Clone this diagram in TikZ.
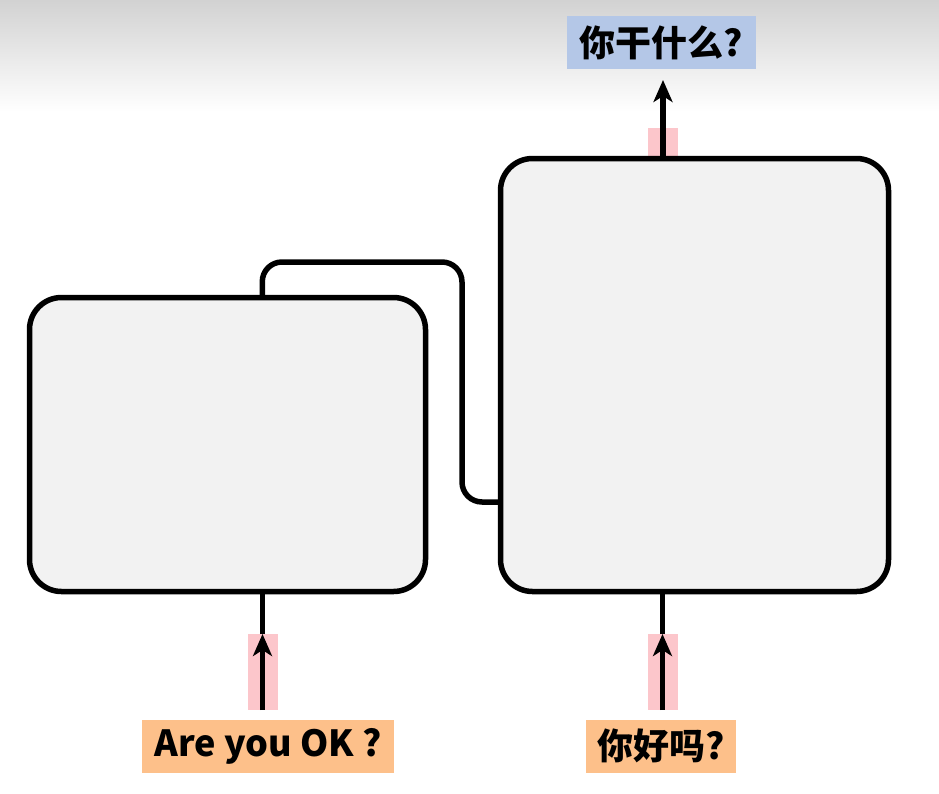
\documentclass[tikz,border=0pt]{standalone}
\usepackage{fontspec}
\setmainfont{Noto Sans CJK SC}
\usetikzlibrary{arrows.meta}
\definecolor{boxfill}{HTML}{F2F2F2}
\definecolor{pinkbar}{HTML}{FCC6CB}
\definecolor{orangelab}{HTML}{FDC08A}
\definecolor{bluelab}{HTML}{B4C7E7}
\definecolor{topgray}{HTML}{D2D2D2}
\tikzset{
  cell/.style={draw=black, line width=5.5pt, fill=boxfill, rounded corners=32pt, inner sep=0pt, outer sep=0pt},
  bar/.style={fill=pinkbar, inner sep=0pt, outer sep=0pt, minimum width=30pt},
  lab/.style={inner sep=0pt, outer sep=0pt, minimum height=53pt, font=\fontsize{36}{40}\selectfont\bfseries},
  wire/.style={line width=5.5pt, draw=black},
  tip/.style={-{Stealth[length=22pt,width=19pt,inset=6pt]}},
}
\begin{document}
\begin{tikzpicture}[x=1pt,y=-1pt]
\useasboundingbox (0,0) rectangle (939,793);
\fill[top color=topgray, bottom color=white] (0,0) rectangle (939,112);
% pink bars
\node[bar, minimum height=76pt] (pL) at (262.5,672) {};
\node[bar, minimum height=76pt] (pR) at (662.5,672) {};
\node[bar, minimum height=30pt] (pT) at (663,143) {};
% boxes
\node[cell, minimum width=396pt, minimum height=294pt] (L) at (227.5,444.5) {};
\node[cell, minimum width=388pt, minimum height=433pt] (R) at (694.5,375) {};
% labels
\node[lab, fill=orangelab, minimum width=252pt] (inL) at (268,746) {Are you OK ?};
\node[lab, fill=orangelab, minimum width=150pt] (inR) at (661,746) {你好吗?};
\node[lab, fill=bluelab, minimum width=189pt] (out) at (661.5,42.5) {你干什么?};
% coordinates
\coordinate (Lt) at (L.north -| pL);
\coordinate (Lb) at (L.south -| pL);
\coordinate (Rb) at (R.south -| pR);
\coordinate (Rt) at (R.north -| pT);
\coordinate (Rw) at (R.west |- 0,502);
\coordinate (tipT) at (663,80);
% input arrows
\draw[wire, tip] (pL.south) -- (pL.north);
\draw[wire] (pL.north) -- (Lb);
\draw[wire, tip] (pR.south) -- (pR.north);
\draw[wire] (pR.north) -- (Rb);
% output arrow
\draw[wire, tip] (Rt) -- (tipT);
% connector
\draw[wire, rounded corners=20pt] (Lt) -- (262,262) -- (462,262) -- (462,502) -- (Rw);
\end{tikzpicture}
\end{document}
